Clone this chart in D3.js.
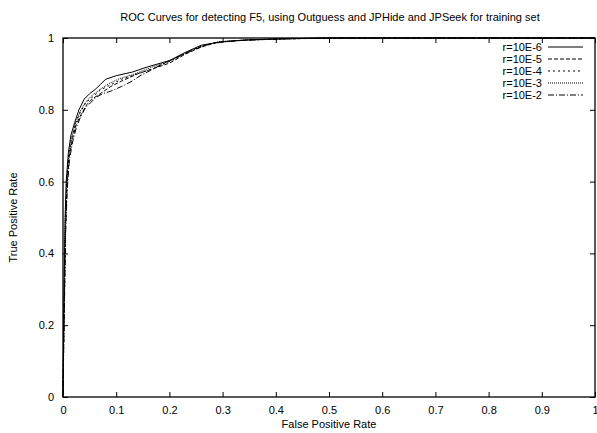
<!DOCTYPE html>
<html>
<head>
<meta charset="utf-8">
<script src="https://cdn.jsdelivr.net/npm/d3@7"></script>
<style>
  body { margin: 0; background: #fff; }
  svg { display: block; font-family: "Liberation Sans", Arial, sans-serif; }
</style>
</head>
<body>
<svg id="chart" width="597" height="433"></svg>
<script>
// ROC curve data (false positive rate, true positive rate)
const seriesNames = ["r=10E-6", "r=10E-5", "r=10E-4", "r=10E-3", "r=10E-2"];

const roc6 = [[0,0],[0.001,0.15],[0.002,0.3],[0.004,0.5],[0.006,0.6],[0.01,0.68],[0.015,0.73],[0.022,0.765],[0.03,0.8],[0.04,0.83],[0.05,0.845],[0.06,0.856],[0.07,0.87],[0.08,0.885],[0.1,0.895],[0.13,0.905],[0.16,0.92],[0.2,0.937],[0.23,0.96],[0.26,0.98],[0.3,0.99],[0.35,0.995],[0.42,0.998],[0.5,1],[1,1]];
const roc5 = [[0,0],[0.001,0.12],[0.003,0.3],[0.005,0.48],[0.008,0.6],[0.012,0.67],[0.018,0.72],[0.025,0.76],[0.035,0.79],[0.045,0.815],[0.055,0.83],[0.07,0.845],[0.09,0.865],[0.11,0.88],[0.14,0.9],[0.17,0.915],[0.2,0.93],[0.23,0.955],[0.26,0.975],[0.29,0.988],[0.34,0.994],[0.42,0.998],[0.52,1],[1,1]];
const roc4 = [[0,0],[0.001,0.13],[0.003,0.32],[0.005,0.5],[0.007,0.6],[0.011,0.68],[0.017,0.725],[0.024,0.765],[0.033,0.795],[0.043,0.82],[0.055,0.835],[0.07,0.855],[0.09,0.87],[0.11,0.885],[0.14,0.9],[0.17,0.915],[0.2,0.935],[0.23,0.958],[0.26,0.978],[0.3,0.99],[0.36,0.995],[0.44,0.998],[0.52,1],[1,1]];
const roc3 = [[0,0],[0.001,0.14],[0.002,0.3],[0.004,0.49],[0.007,0.6],[0.011,0.675],[0.016,0.72],[0.023,0.76],[0.032,0.795],[0.042,0.82],[0.053,0.838],[0.068,0.855],[0.085,0.872],[0.105,0.886],[0.135,0.9],[0.165,0.918],[0.2,0.935],[0.23,0.957],[0.26,0.977],[0.29,0.989],[0.35,0.995],[0.43,0.998],[0.51,1],[1,1]];
const roc2 = [[0,0],[0.001,0.1],[0.003,0.28],[0.005,0.46],[0.008,0.58],[0.012,0.66],[0.018,0.71],[0.025,0.75],[0.033,0.78],[0.042,0.805],[0.052,0.82],[0.062,0.835],[0.075,0.845],[0.09,0.852],[0.11,0.865],[0.13,0.88],[0.145,0.895],[0.165,0.91],[0.19,0.93],[0.22,0.95],[0.25,0.97],[0.28,0.985],[0.33,0.993],[0.42,0.998],[0.52,1],[1,1]];

const rocSeries = [roc6, roc5, roc4, roc3, roc2];
const dashStyles = [null, "4,2", "2,3", "1,1", "6,2,1,2"];

const xTicks = [0, 0.1, 0.2, 0.3, 0.4, 0.5, 0.6, 0.7, 0.8, 0.9, 1];
const yTicks = [0, 0.2, 0.4, 0.6, 0.8, 1];

const svg = d3.select("#chart");
const plotLeft = 63, plotRight = 595, plotTop = 38, plotBottom = 397;

const x = d3.scaleLinear().domain([0, 1]).range([plotLeft, plotRight]);
const y = d3.scaleLinear().domain([0, 1]).range([plotBottom, plotTop]);

// axes with inward ticks, mirrored on top/right like gnuplot
svg.append("g")
    .attr("transform", `translate(0,${plotBottom})`)
    .call(d3.axisBottom(x).tickValues(xTicks).tickFormat(d3.format("")).tickSize(-5).tickPadding(9))
    .call(g => g.select(".domain").remove());
svg.append("g")
    .attr("transform", `translate(0,${plotTop})`)
    .call(d3.axisTop(x).tickValues(xTicks).tickFormat("").tickSize(-5))
    .call(g => g.select(".domain").remove());
svg.append("g")
    .attr("transform", `translate(${plotLeft},0)`)
    .call(d3.axisLeft(y).tickValues(yTicks).tickFormat(d3.format("")).tickSize(-5).tickPadding(9))
    .call(g => g.select(".domain").remove());
svg.append("g")
    .attr("transform", `translate(${plotRight},0)`)
    .call(d3.axisRight(y).tickValues(yTicks).tickFormat("").tickSize(-5))
    .call(g => g.select(".domain").remove());

svg.selectAll(".tick line").attr("stroke", "#000");
svg.selectAll(".tick text").attr("font-size", 11).attr("fill", "#000")
    .attr("font-family", "Liberation Sans, Arial, sans-serif");

// frame
svg.append("rect")
    .attr("x", plotLeft).attr("y", plotTop)
    .attr("width", plotRight - plotLeft).attr("height", plotBottom - plotTop)
    .attr("fill", "none").attr("stroke", "#000").attr("stroke-width", 1.3);

// curves
const line = d3.line().x(d => x(d[0])).y(d => y(d[1]));
rocSeries.forEach((s, i) => {
    svg.append("path")
        .datum(s)
        .attr("d", line)
        .attr("fill", "none")
        .attr("stroke", "#000")
        .attr("stroke-width", 1)
        .attr("stroke-dasharray", dashStyles[i]);
});

// legend
seriesNames.forEach((name, i) => {
    const ly = 47 + i * 12;
    svg.append("text")
        .attr("x", 542).attr("y", ly + 4)
        .attr("text-anchor", "end")
        .attr("font-size", 11)
        .text(name);
    svg.append("line")
        .attr("x1", 548).attr("x2", 583)
        .attr("y1", ly).attr("y2", ly)
        .attr("stroke", "#000").attr("stroke-width", 1)
        .attr("stroke-dasharray", dashStyles[i]);
});

// titles
svg.append("text")
    .attr("x", 330).attr("y", 21)
    .attr("text-anchor", "middle").attr("font-size", 11)
    .text("ROC Curves for detecting F5, using Outguess and JPHide and JPSeek for training set");
svg.append("text")
    .attr("x", (plotLeft + plotRight) / 2).attr("y", 428)
    .attr("text-anchor", "middle").attr("font-size", 11)
    .text("False Positive Rate");
svg.append("text")
    .attr("transform", `translate(17,${(plotTop + plotBottom) / 2}) rotate(-90)`)
    .attr("text-anchor", "middle").attr("font-size", 11)
    .text("True Positive Rate");
</script>
</body>
</html>
